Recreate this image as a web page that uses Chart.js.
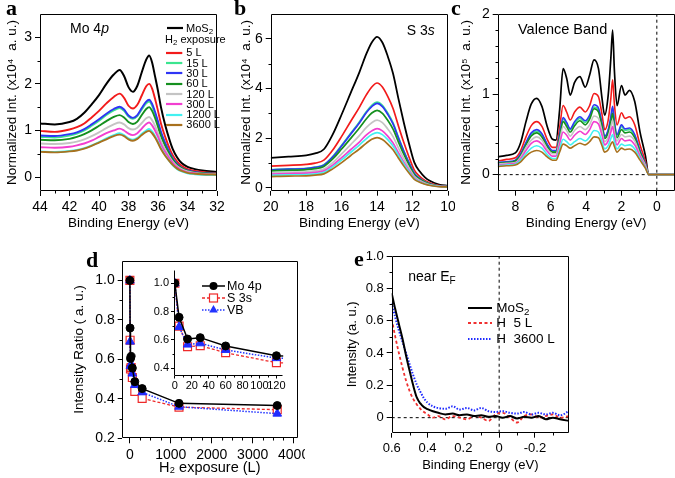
<!DOCTYPE html>
<html><head><meta charset="utf-8">
<script src="https://cdn.jsdelivr.net/npm/chart.js@4.4.0/dist/chart.umd.min.js"></script>
<style>
html,body{margin:0;padding:0;background:#fff;}
body{width:675px;height:478px;position:relative;overflow:hidden;font-family:'Liberation Sans',Arial,sans-serif;}
canvas{position:absolute;}
.t{position:absolute;white-space:pre;line-height:1;color:#000;}
.pl{position:absolute;font-family:'Liberation Serif','DejaVu Serif','Times New Roman',serif;font-weight:bold;font-size:22px;line-height:22px;color:#000;}
sub{font-size:72%;vertical-align:-0.28em;line-height:0;}
</style></head><body>
<script>
// ---------------- DATA ----------------
const seriesNames = ['MoS₂', '5 L', '15 L', '30 L', '60 L', '120 L', '300 L', '1200 L', '3600 L'];
const seriesColors = ['#000000', '#f21b1b', '#3be58f', '#2f35f5', '#15901f', '#c4c4c4', '#f23fd0', '#43f1f1', '#a8711e'];

// Panel a : Mo 4p (x10^4 a.u.)
const moEnergy = [44, 43, 42, 41.5, 41, 40.5, 40, 39.5, 39, 38.6, 38.3, 38, 37.7, 37.4, 37.1, 36.8, 36.6, 36.4, 36.2, 36, 35.8, 35.5, 35.2, 35, 34.7, 34.4, 34, 33.5, 33, 32];
const mo_MoS2 = [1.15, 1.13, 1.18, 1.25, 1.38, 1.56, 1.76, 2.0, 2.2, 2.3, 2.17, 1.93, 1.83, 1.96, 2.25, 2.52, 2.61, 2.46, 2.16, 1.85, 1.5, 1.1, 0.78, 0.6, 0.42, 0.3, 0.22, 0.17, 0.14, 0.11];
const mo_5L    = [0.99, 0.97, 1.02, 1.07, 1.15, 1.28, 1.42, 1.58, 1.72, 1.79, 1.7, 1.53, 1.47, 1.55, 1.75, 1.95, 2.0, 1.9, 1.68, 1.42, 1.15, 0.85, 0.6, 0.47, 0.33, 0.24, 0.17, 0.13, 0.11, 0.08];
const mo_15L   = [0.86, 0.85, 0.89, 0.93, 1.0, 1.1, 1.21, 1.33, 1.43, 1.48, 1.42, 1.3, 1.25, 1.31, 1.45, 1.58, 1.62, 1.53, 1.36, 1.16, 0.94, 0.7, 0.5, 0.39, 0.27, 0.19, 0.13, 0.1, 0.08, 0.06];
const mo_30L   = [0.89, 0.88, 0.92, 0.96, 1.03, 1.13, 1.24, 1.36, 1.46, 1.51, 1.45, 1.32, 1.27, 1.33, 1.48, 1.62, 1.66, 1.57, 1.4, 1.19, 0.97, 0.72, 0.52, 0.4, 0.28, 0.2, 0.14, 0.11, 0.09, 0.07];
const mo_60L   = [0.8, 0.79, 0.82, 0.86, 0.92, 1.0, 1.1, 1.2, 1.29, 1.33, 1.28, 1.18, 1.14, 1.19, 1.33, 1.46, 1.5, 1.42, 1.27, 1.08, 0.88, 0.66, 0.48, 0.37, 0.26, 0.19, 0.13, 0.1, 0.08, 0.07];
const mo_120L  = [0.72, 0.71, 0.73, 0.76, 0.81, 0.88, 0.96, 1.05, 1.13, 1.17, 1.13, 1.05, 1.02, 1.06, 1.16, 1.26, 1.29, 1.22, 1.1, 0.94, 0.77, 0.58, 0.42, 0.33, 0.23, 0.17, 0.12, 0.09, 0.07, 0.06];
const mo_300L  = [0.64, 0.63, 0.65, 0.68, 0.72, 0.78, 0.86, 0.94, 1.0, 1.04, 1.0, 0.93, 0.9, 0.94, 1.04, 1.14, 1.17, 1.11, 1.0, 0.86, 0.7, 0.53, 0.39, 0.3, 0.21, 0.15, 0.1, 0.08, 0.06, 0.05];
const mo_1200L = [0.55, 0.54, 0.56, 0.58, 0.62, 0.68, 0.75, 0.83, 0.9, 0.94, 0.9, 0.83, 0.8, 0.84, 0.93, 1.0, 1.03, 0.98, 0.88, 0.76, 0.62, 0.46, 0.33, 0.25, 0.17, 0.12, 0.08, 0.06, 0.05, 0.04];
const mo_3600L = [0.54, 0.53, 0.55, 0.57, 0.61, 0.67, 0.74, 0.81, 0.88, 0.91, 0.88, 0.81, 0.78, 0.82, 0.9, 0.97, 0.99, 0.94, 0.85, 0.73, 0.6, 0.45, 0.33, 0.26, 0.18, 0.13, 0.09, 0.07, 0.06, 0.05];

// Panel b : S 3s (x10^4 a.u.)
const sEnergy = [20, 19, 18, 17.5, 17, 16.5, 16, 15.5, 15, 14.6, 14.3, 14, 13.7, 13.4, 13.1, 12.8, 12.5, 12.2, 11.9, 11.6, 11.3, 11, 10.5, 10];
const s_MoS2 = [1.2, 1.25, 1.3, 1.38, 1.55, 2.15, 2.95, 3.8, 4.65, 5.4, 5.85, 6.08, 5.85, 5.3, 4.6, 3.6, 2.65, 1.78, 1.02, 0.66, 0.42, 0.27, 0.13, 0.08];
const s_5L    = [0.87, 0.9, 0.94, 0.99, 1.11, 1.52, 2.07, 2.66, 3.24, 3.75, 4.06, 4.22, 4.06, 3.68, 3.19, 2.5, 1.84, 1.24, 0.71, 0.46, 0.29, 0.19, 0.09, 0.06];
const s_15L   = [0.73, 0.76, 0.78, 0.83, 0.93, 1.26, 1.71, 2.18, 2.65, 3.07, 3.32, 3.45, 3.32, 3.01, 2.61, 2.04, 1.5, 1.01, 0.58, 0.38, 0.24, 0.15, 0.07, 0.05];
const s_30L   = [0.72, 0.75, 0.77, 0.82, 0.91, 1.24, 1.68, 2.15, 2.61, 3.03, 3.27, 3.4, 3.27, 2.96, 2.57, 2.01, 1.48, 1.0, 0.57, 0.37, 0.23, 0.15, 0.07, 0.05];
const s_60L   = [0.68, 0.7, 0.73, 0.77, 0.86, 1.16, 1.56, 1.98, 2.41, 2.78, 3.01, 3.12, 3.0, 2.72, 2.36, 1.85, 1.36, 0.91, 0.52, 0.34, 0.22, 0.14, 0.07, 0.05];
const s_120L  = [0.6, 0.62, 0.64, 0.68, 0.75, 1.01, 1.36, 1.73, 2.1, 2.43, 2.62, 2.72, 2.62, 2.37, 2.06, 1.61, 1.19, 0.8, 0.46, 0.3, 0.19, 0.12, 0.06, 0.04];
const s_300L  = [0.55, 0.57, 0.59, 0.62, 0.68, 0.91, 1.21, 1.53, 1.84, 2.13, 2.29, 2.38, 2.29, 2.08, 1.8, 1.41, 1.04, 0.7, 0.4, 0.26, 0.16, 0.1, 0.05, 0.04];
const s_1200L = [0.5, 0.52, 0.53, 0.56, 0.62, 0.84, 1.12, 1.42, 1.72, 1.98, 2.14, 2.22, 2.14, 1.94, 1.68, 1.31, 0.97, 0.65, 0.37, 0.24, 0.15, 0.1, 0.05, 0.03];
const s_3600L = [0.45, 0.47, 0.48, 0.51, 0.56, 0.76, 1.01, 1.29, 1.56, 1.8, 1.95, 2.02, 1.94, 1.76, 1.53, 1.2, 0.88, 0.59, 0.34, 0.22, 0.14, 0.09, 0.04, 0.03];

// Panel c : valence band (x10^5 a.u.)
const vbEnergy = [9, 8.5, 8, 7.7, 7.4, 7.1, 6.8, 6.5, 6.2, 5.9, 5.7, 5.5, 5.3, 5.1, 4.9, 4.65, 4.35, 4.05, 3.8, 3.55, 3.3, 3.1, 2.95, 2.75, 2.6, 2.5, 2.4, 2.25, 2.0, 1.8, 1.55, 1.25, 0.95, 0.65, 0.45, 0, -1];
const vb_MoS2 = [0.22, 0.24, 0.27, 0.4, 0.66, 0.88, 0.95, 0.85, 0.6, 0.44, 0.43, 0.8, 1.32, 1.2, 0.99, 1.15, 1.22, 1.09, 1.24, 1.43, 1.32, 0.95, 0.74, 0.99, 1.45, 1.8, 1.3, 0.86, 1.11, 0.99, 1.05, 0.91, 0.53, 0.24, 0, 0, 0];
const vb_5L    = [0.17, 0.19, 0.21, 0.3, 0.47, 0.61, 0.66, 0.6, 0.44, 0.34, 0.34, 0.58, 0.86, 0.78, 0.68, 0.78, 0.84, 0.78, 0.86, 1.01, 0.97, 0.75, 0.56, 0.68, 0.95, 1.18, 0.88, 0.62, 0.77, 0.7, 0.72, 0.62, 0.37, 0.17, 0, 0, 0];
const vb_15L   = [0.15, 0.16, 0.17, 0.25, 0.39, 0.5, 0.54, 0.5, 0.37, 0.29, 0.29, 0.49, 0.69, 0.63, 0.56, 0.64, 0.7, 0.65, 0.72, 0.84, 0.81, 0.62, 0.47, 0.55, 0.7, 0.83, 0.64, 0.49, 0.6, 0.55, 0.56, 0.48, 0.29, 0.13, 0, 0, 0];
const vb_30L   = [0.15, 0.16, 0.18, 0.26, 0.4, 0.52, 0.56, 0.51, 0.38, 0.3, 0.3, 0.5, 0.71, 0.65, 0.57, 0.66, 0.72, 0.67, 0.74, 0.87, 0.83, 0.64, 0.48, 0.56, 0.72, 0.85, 0.66, 0.5, 0.62, 0.57, 0.58, 0.5, 0.3, 0.14, 0, 0, 0];
const vb_60L   = [0.14, 0.15, 0.17, 0.24, 0.37, 0.48, 0.52, 0.47, 0.35, 0.28, 0.28, 0.46, 0.66, 0.6, 0.53, 0.61, 0.67, 0.62, 0.69, 0.82, 0.78, 0.6, 0.45, 0.52, 0.66, 0.76, 0.6, 0.46, 0.56, 0.52, 0.53, 0.46, 0.28, 0.13, 0, 0, 0];
const vb_120L  = [0.13, 0.14, 0.15, 0.22, 0.34, 0.43, 0.47, 0.43, 0.32, 0.26, 0.26, 0.42, 0.6, 0.55, 0.48, 0.55, 0.6, 0.56, 0.62, 0.73, 0.7, 0.54, 0.41, 0.47, 0.59, 0.68, 0.54, 0.42, 0.5, 0.47, 0.48, 0.42, 0.25, 0.12, 0, 0, 0];
const vb_300L  = [0.12, 0.13, 0.14, 0.2, 0.3, 0.39, 0.42, 0.38, 0.29, 0.23, 0.23, 0.38, 0.53, 0.49, 0.43, 0.49, 0.54, 0.5, 0.56, 0.66, 0.63, 0.49, 0.37, 0.42, 0.53, 0.6, 0.48, 0.37, 0.45, 0.42, 0.43, 0.37, 0.23, 0.1, 0, 0, 0];
const vb_1200L = [0.11, 0.12, 0.13, 0.18, 0.26, 0.33, 0.36, 0.33, 0.25, 0.2, 0.2, 0.32, 0.44, 0.41, 0.37, 0.41, 0.45, 0.42, 0.47, 0.55, 0.53, 0.41, 0.32, 0.36, 0.45, 0.5, 0.41, 0.32, 0.38, 0.36, 0.37, 0.32, 0.2, 0.09, 0, 0, 0];
const vb_3600L = [0.1, 0.11, 0.12, 0.16, 0.23, 0.28, 0.3, 0.28, 0.22, 0.18, 0.18, 0.28, 0.38, 0.36, 0.33, 0.36, 0.39, 0.37, 0.41, 0.47, 0.46, 0.36, 0.28, 0.31, 0.38, 0.41, 0.35, 0.28, 0.33, 0.31, 0.32, 0.28, 0.18, 0.08, 0, 0, 0];

// Panel d : intensity ratio vs H2 exposure
const exposure  = [0, 5, 15, 30, 60, 120, 300, 1200, 3600];
const ratioMo4p = [1.0, 0.759, 0.605, 0.615, 0.556, 0.487, 0.452, 0.377, 0.366];
const ratioS3s  = [1.0, 0.697, 0.551, 0.558, 0.508, 0.438, 0.402, 0.358, 0.345];
const ratioVB   = [1.0, 0.69, 0.566, 0.575, 0.528, 0.47, 0.433, 0.36, 0.325];
const ratioNames = ['Mo 4p', 'S 3s', 'VB'];

// Panel e : near Fermi level
const efEnergy = [0.6, 0.58, 0.56, 0.54, 0.52, 0.5, 0.48, 0.46, 0.44, 0.42, 0.4, 0.37, 0.34, 0.3, 0.26, 0.22, 0.18, 0.14, 0.1, 0.06, 0.02, -0.02, -0.06, -0.1, -0.14, -0.18, -0.22, -0.26, -0.3, -0.34, -0.39];
const ef_MoS2  = [0.77, 0.67, 0.58, 0.49, 0.385, 0.29, 0.2, 0.125, 0.088, 0.065, 0.053, 0.04, 0.03, 0.02, 0.025, 0.015, 0.02, 0.01, 0.015, 0.005, 0.01, 0.0, 0.01, -0.005, 0.005, 0.0, 0.01, -0.01, 0.0, -0.01, -0.02];
const ef_5L    = [0.61, 0.5, 0.4, 0.31, 0.23, 0.165, 0.116, 0.082, 0.055, 0.035, 0.02, 0.0, 0.01, -0.01, 0.01, 0.0, -0.01, 0.01, 0.0, -0.02, 0.02, 0.03, 0.0, -0.03, 0.01, 0.02, 0.0, 0.01, 0.02, 0.0, 0.01];
const ef_3600L = [0.71, 0.62, 0.54, 0.47, 0.4, 0.33, 0.263, 0.205, 0.16, 0.12, 0.093, 0.07, 0.06, 0.055, 0.07, 0.05, 0.06, 0.045, 0.06, 0.04, 0.035, 0.04, 0.03, 0.025, 0.035, 0.02, 0.03, 0.02, 0.03, 0.015, 0.04];
const efNames = ['MoS<sub>2</sub>', 'H  5 L', 'H  3600 L'];

const fermiLevel = 0, zeroIntensity = 0;

// ---------------- DRAWING ----------------
Chart.defaults.font.family = "'Liberation Sans', Arial, sans-serif";
Chart.defaults.color = '#000';

const framePlugin = {
  id: 'frame',
  afterDraw(chart, args, o) {
    const {ctx, chartArea: a} = chart;
    const L = Math.round(a.left) + 0.5, R = Math.round(a.right) - 0.5;
    const T = Math.round(a.top) + 0.5, B = Math.round(a.bottom) - 0.5;
    ctx.save();
    ctx.strokeStyle = '#000'; ctx.lineWidth = 1;
    ctx.beginPath();
    if (o.box) { ctx.rect(L, T, R - L, B - T); }
    else { ctx.moveTo(L, T); ctx.lineTo(L, B); ctx.lineTo(R, B); }
    ctx.stroke();
    const len = o.len || 3;
    const minor = (scale, step, horiz) => {
      if (!step) return;
      const lo = Math.min(scale.min, scale.max), hi = Math.max(scale.min, scale.max);
      const majors = scale.ticks.map(t => t.value);
      for (let k = Math.ceil(lo / step - 1e-9); k * step <= hi + 1e-9; k++) {
        const v = k * step;
        if (majors.some(m => Math.abs(m - v) < step * 1e-3)) continue;
        if (v <= lo + step * 1e-3 || v >= hi - step * 1e-3) continue;
        const p = Math.round(scale.getPixelForValue(v)) + 0.5;
        ctx.beginPath();
        if (horiz) { ctx.moveTo(p, B); ctx.lineTo(p, B + len); }
        else { ctx.moveTo(L, p); ctx.lineTo(L - len, p); }
        ctx.stroke();
      }
    };
    minor(chart.scales.x, o.xMinor, true);
    minor(chart.scales.y, o.yMinor, false);
    ctx.restore();
  }
};

function makeChart(g) {
  const cv = document.createElement('canvas');
  cv.width = g.w; cv.height = g.h;
  cv.style.left = g.left + 'px'; cv.style.top = g.top + 'px';
  cv.style.width = g.w + 'px'; cv.style.height = g.h + 'px';
  document.body.appendChild(cv);
  const yW = g.area.l - g.left - g.padL;
  const xH = g.top + g.h - g.area.b;
  const axis = (ax, isX) => ({
    type: 'linear', min: ax.min, max: ax.max, reverse: !!ax.reverse,
    afterBuildTicks: s => { s.ticks = ax.ticks.map(v => ({value: v})); },
    afterFit: s => {
      if (isX) { s.height = xH; s.paddingLeft = 0; s.paddingRight = 0; }
      else { s.width = yW; s.paddingTop = 0; s.paddingBottom = 0; }
    },
    grid: {display: true, drawOnChartArea: false, drawTicks: true, tickLength: ax.tickLen || 5, color: '#000', lineWidth: 1},
    border: {display: false},
    ticks: {font: {size: ax.font}, padding: ax.pad === undefined ? 3 : ax.pad, color: '#000',
            callback: ax.fmt, maxRotation: 0, autoSkip: false},
    title: ax.title ? {display: true, text: ax.title, font: {size: ax.titleFont}, padding: 0, color: '#000'} : {display: false}
  });
  return new Chart(cv, {
    type: 'line',
    data: {datasets: g.datasets},
    options: {
      responsive: false, animation: false, events: [],
      layout: {padding: {left: g.padL, top: g.area.t - g.top, right: g.left + g.w - g.area.r, bottom: 0}},
      scales: {x: axis(g.x, true), y: axis(g.y, false)},
      plugins: {legend: {display: false}, tooltip: {enabled: false},
                frame: {box: g.box !== false, xMinor: g.x.minor, yMinor: g.y.minor, len: g.minorLen || 3}}
    },
    plugins: [framePlugin]
  });
}

function spectra(xs, list, w0, w1) {
  return list.map((ys, i) => ({
    data: xs.map((x, k) => ({x: x, y: ys[k]})),
    borderColor: seriesColors[i], backgroundColor: seriesColors[i],
    borderWidth: i === 0 ? w0 : w1, pointRadius: 0,
    cubicInterpolationMode: 'monotone', fill: false, order: list.length - i
  }));
}
function refLine(pts) {
  return {data: pts, borderColor: '#000', borderWidth: 1, borderDash: [3, 3], pointRadius: 0, tension: 0, order: 50};
}
const int0 = v => String(v);
const dec1 = v => v.toFixed(1);
const dec1z = v => (Math.abs(v) < 1e-9 ? '0' : v.toFixed(1));

// panel a
makeChart({left: 0, top: 0, w: 225, h: 231, padL: 4.4, area: {l: 40, t: 14, r: 217, b: 191},
  x: {min: 32, max: 44, reverse: true, ticks: [32, 34, 36, 38, 40, 42, 44], minor: 1, font: 14, fmt: int0,
      title: 'Binding Energy (eV)', titleFont: 13.5},
  y: {min: -0.3, max: 3.5, ticks: [0, 1, 2, 3], minor: 0.5, font: 14, fmt: int0,
      title: 'Normalized Int. (x10⁴  a. u.)', titleFont: 13.5},
  datasets: spectra(moEnergy, [mo_MoS2, mo_5L, mo_15L, mo_30L, mo_60L, mo_120L, mo_300L, mo_1200L, mo_3600L], 2, 1.9)
});
// panel b
makeChart({left: 230, top: 0, w: 225, h: 231, padL: 8.6, area: {l: 270.7, t: 14, r: 448, b: 190.7},
  x: {min: 10, max: 20, reverse: true, ticks: [10, 12, 14, 16, 18, 20], minor: 1, font: 14, fmt: int0,
      title: 'Binding Energy (eV)', titleFont: 13.5},
  y: {min: -0.12, max: 7, ticks: [0, 2, 4, 6], minor: 1, font: 14, fmt: int0,
      title: 'Normalized Int. (x10⁴  a. u.)', titleFont: 13.5},
  datasets: spectra(sEnergy, [s_MoS2, s_5L, s_15L, s_30L, s_60L, s_120L, s_300L, s_1200L, s_3600L], 1.8, 1.7)
});
// panel c
makeChart({left: 452, top: 0, w: 223, h: 231, padL: 6.6, area: {l: 497.7, t: 14, r: 674.5, b: 190.7},
  x: {min: -1, max: 9, reverse: true, ticks: [0, 2, 4, 6, 8], minor: 1, font: 14, fmt: int0,
      title: 'Binding Energy (eV)', titleFont: 13.5},
  y: {min: -0.2, max: 2, ticks: [0, 1, 2], minor: 0.2, font: 14, fmt: int0,
      title: 'Normalized Int. (x10⁵  a. u.)', titleFont: 13.5},
  datasets: spectra(vbEnergy, [vb_MoS2, vb_5L, vb_15L, vb_30L, vb_60L, vb_120L, vb_300L, vb_1200L, vb_3600L], 1.7, 1.6)
    .concat([refLine([{x: 9, y: zeroIntensity}, {x: -1, y: zeroIntensity}]),
             refLine([{x: fermiLevel, y: -0.2}, {x: fermiLevel, y: 2}])])
});

// panel d
const ratioSets = (r) => [
  {data: exposure.map((x, k) => ({x: x, y: ratioMo4p[k]})), borderColor: '#000', borderWidth: 1.5,
   pointStyle: 'circle', pointRadius: r.c, pointBackgroundColor: '#000', pointBorderColor: '#000', pointBorderWidth: 1, tension: 0, order: 0},
  {data: exposure.map((x, k) => ({x: x, y: ratioS3s[k]})), borderColor: '#ee2a2a', borderWidth: 1.3, borderDash: [3, 2],
   pointStyle: 'rect', pointRadius: r.s, pointBackgroundColor: '#fff', pointBorderColor: '#ee2a2a', pointBorderWidth: 1.2, tension: 0, order: 2},
  {data: exposure.map((x, k) => ({x: x, y: ratioVB[k]})), borderColor: '#2233ff', borderWidth: 1.5, borderDash: [1.5, 1.5],
   pointStyle: 'triangle', pointRadius: r.t, pointBackgroundColor: '#1f2bff', pointBorderColor: '#1f2bff', pointBorderWidth: 1, tension: 0, order: 1}
];
makeChart({left: 60, top: 230, w: 245, h: 247, padL: 10.9, area: {l: 121.7, t: 260.7, r: 297.7, b: 438.3},
  x: {min: -200, max: 4100, ticks: [0, 1000, 2000, 3000, 4000], minor: 250, font: 14, fmt: int0,
      title: 'H₂ exposure (L)', titleFont: 14.5},
  y: {min: 0.2, max: 1.1, ticks: [0.2, 0.4, 0.6, 0.8, 1.0], minor: 0.1, font: 14, fmt: dec1, tickLen: 4,
      title: 'Intensity Ratio ( a. u.)', titleFont: 13.5},
  datasets: ratioSets({c: 4, s: 5.6, t: 5})
});
// inset of d
makeChart({left: 148, top: 262, w: 142, h: 130, padL: 0, area: {l: 174, t: 270, r: 288, b: 375.5}, box: false, minorLen: 2,
  x: {min: -1, max: 128, ticks: [0, 20, 40, 60, 80, 100, 120], minor: 10, font: 11, fmt: int0, tickLen: 3, pad: 1},
  y: {min: 0.347, max: 1.094, ticks: [0.4, 0.6, 0.8, 1.0], minor: 0.1, font: 11, fmt: dec1, tickLen: 3, pad: 2},
  datasets: ratioSets({c: 4, s: 5.6, t: 5})
});

// panel e
makeChart({left: 335, top: 240, w: 240, h: 233, padL: 9.5, area: {l: 391.7, t: 256, r: 569, b: 432.7},
  x: {min: -0.39, max: 0.6, reverse: true, ticks: [-0.2, 0, 0.2, 0.4, 0.6], minor: 0.1, font: 13, fmt: dec1z,
      title: 'Binding Energy (eV)', titleFont: 13},
  y: {min: -0.093, max: 1.0, ticks: [0, 0.2, 0.4, 0.6, 0.8, 1.0], minor: 0.1, font: 13, fmt: dec1z,
      title: 'Intensity (a. u.)', titleFont: 13},
  datasets: [
    {data: efEnergy.map((x, k) => ({x: x, y: ef_MoS2[k]})), borderColor: '#000', borderWidth: 2, pointRadius: 0, cubicInterpolationMode: 'monotone', order: 0},
    {data: efEnergy.map((x, k) => ({x: x, y: ef_5L[k]})), borderColor: '#f03030', borderWidth: 1.8, borderDash: [3, 2.5], pointRadius: 0, cubicInterpolationMode: 'monotone', order: 2},
    {data: efEnergy.map((x, k) => ({x: x, y: ef_3600L[k]})), borderColor: '#1f2bff', borderWidth: 2, borderDash: [1.5, 1.5], pointRadius: 0, cubicInterpolationMode: 'monotone', order: 1},
    refLine([{x: 0.6, y: zeroIntensity}, {x: -0.39, y: zeroIntensity}]),
    refLine([{x: fermiLevel, y: -0.093}, {x: fermiLevel, y: 1.0}])
  ]
});

// ---------------- TEXT & LEGENDS ----------------
function txt(html, left, cy, size, cls) {
  const d = document.createElement('div');
  d.className = cls || 't'; d.innerHTML = html;
  d.style.left = left + 'px';
  d.style.top = (cy - 0.49 * size) + 'px';
  d.style.fontSize = size + 'px';
  document.body.appendChild(d);
}
function letter(ch, left, baseline) {
  const d = document.createElement('div');
  d.className = 'pl'; d.textContent = ch;
  d.style.left = left + 'px'; d.style.top = (baseline - 18.4) + 'px';
  document.body.appendChild(d);
}
const NS = 'http://www.w3.org/2000/svg';
function swatch(x1, x2, cy, color, w, dash, marker) {
  const pad = 7, W = x2 - x1 + 2 * pad, H = 16;
  const s = document.createElementNS(NS, 'svg');
  s.setAttribute('width', W); s.setAttribute('height', H);
  s.style.position = 'absolute'; s.style.left = (x1 - pad) + 'px'; s.style.top = (cy - H / 2) + 'px';
  const l = document.createElementNS(NS, 'line');
  l.setAttribute('x1', pad); l.setAttribute('x2', pad + x2 - x1);
  l.setAttribute('y1', H / 2); l.setAttribute('y2', H / 2);
  l.setAttribute('stroke', color); l.setAttribute('stroke-width', w);
  if (dash) l.setAttribute('stroke-dasharray', dash.join(' '));
  s.appendChild(l);
  if (marker) {
    const cx = W / 2, c = H / 2; let m;
    if (marker === 'circle') {
      m = document.createElementNS(NS, 'circle');
      m.setAttribute('cx', cx); m.setAttribute('cy', c); m.setAttribute('r', 4); m.setAttribute('fill', color);
    } else if (marker === 'rect') {
      m = document.createElementNS(NS, 'rect');
      m.setAttribute('x', cx - 4); m.setAttribute('y', c - 4); m.setAttribute('width', 8); m.setAttribute('height', 8);
      m.setAttribute('fill', '#fff'); m.setAttribute('stroke', color); m.setAttribute('stroke-width', 1.2);
    } else {
      m = document.createElementNS(NS, 'polygon');
      m.setAttribute('points', `${cx},${c - 5} ${cx + 4.33},${c + 2.5} ${cx - 4.33},${c + 2.5}`);
      m.setAttribute('fill', color);
    }
    s.appendChild(m);
  }
  document.body.appendChild(s);
}

// panel letters
letter('a', 6, 15); letter('b', 234, 15); letter('c', 451, 15); letter('d', 86, 267.7); letter('e', 354, 266.7);

// panel labels
txt('Mo 4<i>p</i>', 70, 28.3, 14);
txt('S 3<i>s</i>', 406.7, 30, 14);
txt('Valence Band', 518, 29.3, 14.5);
txt('near E<sub>F</sub>', 408.3, 276, 14);

// legend a
swatch(166.7, 182.7, 28.3, seriesColors[0], 2.2);
txt('MoS<sub>2</sub>', 186, 28.3, 11);
txt('H<sub>2</sub> exposure', 165, 39.3, 11);
for (let i = 1; i < seriesNames.length; i++) {
  const y = 52.7 + (i - 1) * 10.3;
  swatch(165.7, 182, y, seriesColors[i], 2.2);
  txt(seriesNames[i], 186.3, y, 11);
}

// legend d (inset)
const dRows = [285.8, 297.8, 309.7];
swatch(202, 225, dRows[0], '#000', 1.5, null, 'circle');
swatch(202, 225, dRows[1], '#ee2a2a', 1.3, [3, 2], 'rect');
swatch(202, 225, dRows[2], '#2233ff', 1.5, [1.5, 1.5], 'triangle');
ratioNames.forEach((n, i) => txt(n, 227, dRows[i], 12.5));

// legend e
const eRows = [307.5, 322.8, 338.5];
swatch(468, 492, eRows[0], '#000', 2);
swatch(468, 492, eRows[1], '#f03030', 1.8, [3, 2.5]);
swatch(468, 492, eRows[2], '#1f2bff', 2, [1.5, 1.5]);
efNames.forEach((n, i) => txt(n, 496.3, eRows[i], 13.5));
</script>
</body></html>
